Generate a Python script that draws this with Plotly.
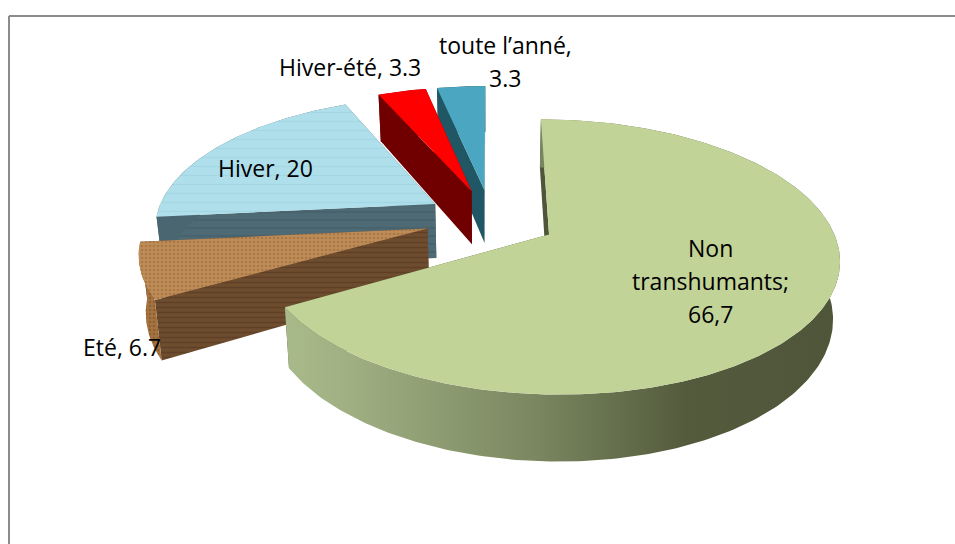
import numpy as np
import plotly.graph_objects as go

labels = ["Non transhumants", "Eté", "Hiver", "Hiver-été", "toute l’anné"]
values = [66.7, 6.7, 20, 3.3, 3.3]
label_lines = [["Non", "transhumants;", "66,7"], ["Eté, 6.7"], ["Hiver, 20"], ["Hiver-été, 3.3"], ["toute l’anné,", "3.3"]]

# camera / pie geometry (pixels of the 955x544 page)
CX, CY, RX, RY, K, DEPTH, EXPLODE = 491, 219, 280, 129, 0.16, 55, 0.235
DRAW_ORDER = [2, 1, 4, 3, 0]

STYLE = {
    0: dict(top="#C2D398", radial="#4F5539",
            side=dict(fillgradient=dict(type="horizontal", colorscale=[[0, "#A9BA8A"], [0.12, "#9FAF82"], [0.45, "#7A8760"], [0.72, "#545B3D"], [1, "#4F5539"]]))),
    1: dict(top="#B98A55", radial="#67462A", top_p=dict(shape=".", fgcolor="#94632F", bgcolor="#BE8C58", size=4, solidity=0.35),
            rad_p=dict(shape="-", fgcolor="#4E3420", bgcolor="#6E4C2E", size=5, solidity=0.3),
            side=dict(fillcolor="#9A6B3E", fillpattern=dict(shape=".", fgcolor="#75502A", bgcolor="#A5733F", size=4, solidity=0.35))),
    2: dict(top="#AADDE9", radial="#4A6670", top_p=dict(shape="-", fgcolor="#9AD0DE", bgcolor="#AEDFEA", size=9, solidity=0.15),
            rad_p=dict(shape="-", fgcolor="#415C66", bgcolor="#4E6A75", size=8, solidity=0.3),
            side=dict(fillcolor="#4A6670")),
    3: dict(top="#FF0000", radial="#700000", side=dict(fillcolor="#700000")),
    4: dict(top="#4BA6C1", radial="#215765", side=dict(fillcolor="#215765")),
}


def project(u, v, z=0.0):
    den = 1 + K * v
    x = CX + RX * u / den
    y = CY - RY * v / den + DEPTH * z / den
    return CX + (x - CX) * (1 - 0.02 * z), y


fig = go.Figure()

cum = np.cumsum([0] + values)
total = sum(values)
starts = [c / total * 2 * np.pi for c in cum[:-1]]
ends = [c / total * 2 * np.pi for c in cum[1:]]


def poly(xs, ys, name, color, pattern=None, extra=None):
    kw = dict(x=list(xs), y=list(ys), mode="lines", fill="toself", line=dict(width=0),
              name=name, hoverinfo="name", showlegend=False)
    if extra:
        kw.update(extra)
    else:
        kw["fillcolor"] = color
    if pattern:
        kw["fillpattern"] = pattern
    fig.add_trace(go.Scatter(**kw))


for i in DRAW_ORDER:
    a0, a1 = starts[i], ends[i]
    mid = (a0 + a1) / 2
    ou, ov = EXPLODE * np.sin(mid), EXPLODE * np.cos(mid)
    th = np.linspace(a0, a1, max(8, int((a1 - a0) * 60)))
    au, av = ou + np.sin(th), ov + np.cos(th)
    st = STYLE[i]
    name = f"{labels[i]}: {values[i]}"

    # radial walls
    for a in (a1, a0):
        ru, rv = ou + np.sin(a), ov + np.cos(a)
        x1, y1 = project(ou, ov, 0)
        x2, y2 = project(ru, rv, 0)
        x3, y3 = project(ru, rv, 1)
        x4, y4 = project(ou, ov, 1)
        poly([x1, x2, x3, x4, x1], [y1, y2, y3, y4, y1], name, st["radial"], st.get("rad_p"))

    # outer wall
    xt, yt = project(au, av, 0)
    xb, yb = project(au, av, 1)
    poly(np.r_[xt, xb[::-1], xt[0]], np.r_[yt, yb[::-1], yt[0]], name, None, None, st["side"])

    # top face
    xc, yc = project(ou, ov, 0)
    poly(np.r_[xc, xt, xc], np.r_[yc, yt, yc], name, st["top"], st.get("top_p"))

LABEL_X = [710, 122, 265, 350, 505]
LABEL_Y = [248, 347, 168, 67, 45]
LINE_PITCH = 33
for lines, x, y in zip(label_lines, LABEL_X, LABEL_Y):
    for n, t in enumerate(lines):
        fig.add_annotation(x=x, y=y + n * LINE_PITCH, text=t, showarrow=False, xref="x", yref="y",
                           font=dict(family="Open Sans", size=23, color="#000000"), align="center")

FRAME_L, FRAME_T, FRAME_R, FRAME_B = 9, 16, 955, 544
fig.add_shape(type="line", x0=FRAME_L, x1=FRAME_R, y0=FRAME_T, y1=FRAME_T, line=dict(color="#8C8C8C", width=2))
fig.add_shape(type="line", x0=FRAME_L, x1=FRAME_L, y0=FRAME_T, y1=FRAME_B, line=dict(color="#8C8C8C", width=2))

fig.update_layout(
    width=955, height=544, margin=dict(l=0, r=0, t=0, b=0),
    paper_bgcolor="white", plot_bgcolor="white", showlegend=False,
    xaxis=dict(range=[0, 955], visible=False, fixedrange=True),
    yaxis=dict(range=[544, 0], visible=False, fixedrange=True),
)
fig.write_html("out.html", config=dict(displayModeBar=False),
               post_script="document.body.style.margin='0';document.documentElement.style.overflow='hidden';")
